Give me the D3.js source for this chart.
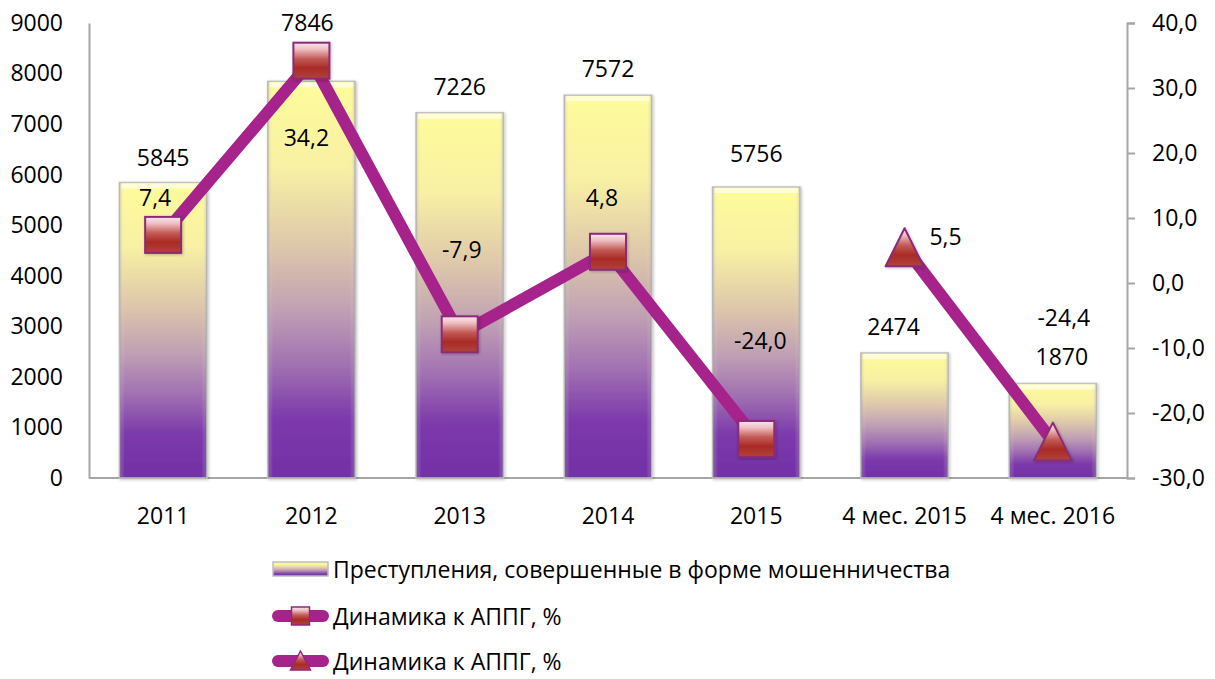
<!DOCTYPE html>
<html>
<head>
<meta charset="utf-8">
<script src="https://cdn.jsdelivr.net/npm/d3@7"></script>
<style>
  body { margin: 0; background: #fff; }
  svg text { font-family: "Open Sans", "Noto Sans", sans-serif; fill: #000; }
</style>
</head>
<body>
<div id="chart"></div>
<script>
// chart data
const categories = ["2011", "2012", "2013", "2014", "2015", "4 мес. 2015", "4 мес. 2016"];
const crimes = [5845, 7846, 7226, 7572, 5756, 2474, 1870];
const dynYear = [7.4, 34.2, -7.9, 4.8, -24.0, null, null];
const dynMonths = [null, null, null, null, null, 5.5, -24.4];
const leftTicks = [0, 1000, 2000, 3000, 4000, 5000, 6000, 7000, 8000, 9000];
const rightTicks = [-30, -20, -10, 0, 10, 20, 30, 40];
const legendLabels = ["Преступления, совершенные в форме мошенничества", "Динамика к АППГ, %", "Динамика к АППГ, %"];

// hand-placed label offsets (as in the original)
const barLabelShift = [[0, -26], [-4, -59], [0, -27], [0, -27], [0, -34], [-11, -27], [9, -27]];
const lineLabelShift = [[-8, -38], [-5, 76], [2, -85], [-6, -55], [4, -99], [41, -11], [11, -125]];

const W = 1215, H = 679;
const plot = { left: 89, right: 1127, top: 23, bottom: 478 };
const lineColor = "#a5238a";
const fs = 23;
const fmt = v => (v < 0 ? "-" : "") + Math.abs(v).toFixed(1).replace(".", ",");

const svg = d3.select("#chart").append("svg")
    .attr("width", W)
    .attr("height", H);

const defs = svg.append("defs");

const barGrad = defs.append("linearGradient")
    .attr("id", "barGrad")
    .attr("x1", 0).attr("y1", 0).attr("x2", 0).attr("y2", 1);
[[0, "#fefc9a"], [0.22, "#f8f0a4"], [0.42, "#ddc6ab"], [0.58, "#bf9fb4"], [0.72, "#a06fb2"], [0.85, "#7c3aab"], [1, "#7230a6"]]
    .forEach(s => barGrad.append("stop").attr("offset", s[0]).attr("stop-color", s[1]));

const shine = defs.append("linearGradient")
    .attr("id", "shine")
    .attr("x1", 0).attr("y1", 0).attr("x2", 1).attr("y2", 0);
[[0, "#8a8a8a", 0.35], [0.06, "#ffffff", 0.0], [0.94, "#ffffff", 0.0], [1, "#8a8a8a", 0.35]]
    .forEach(s => shine.append("stop").attr("offset", s[0]).attr("stop-color", s[1]).attr("stop-opacity", s[2]));

const markGrad = defs.append("linearGradient")
    .attr("id", "markGrad")
    .attr("x1", 0).attr("y1", 0).attr("x2", 0).attr("y2", 1);
[[0, "#f9e8ee"], [0.18, "#efbfc4"], [0.45, "#c25a55"], [0.7, "#a92b25"], [1, "#b0423c"]]
    .forEach(s => markGrad.append("stop").attr("offset", s[0]).attr("stop-color", s[1]));

const shadow = defs.append("filter").attr("id", "shadow")
    .attr("x", "-20%").attr("y", "-10%").attr("width", "140%").attr("height", "120%");
shadow.append("feDropShadow")
    .attr("dx", 1).attr("dy", 1).attr("stdDeviation", 1.5)
    .attr("flood-color", "#000").attr("flood-opacity", 0.25);

// scales
const x = d3.scaleBand()
    .domain(categories)
    .range([plot.left, plot.right])
    .paddingInner(0.41)
    .paddingOuter(0.205);

const y = d3.scaleLinear().domain([0, 9000]).range([plot.bottom, plot.top]);
const y2 = d3.scaleLinear().domain([-30, 40]).range([plot.bottom, plot.top]);

const cx = d => x(d) + x.bandwidth() / 2;

// axes
const leftAxis = svg.append("g")
    .attr("transform", `translate(${plot.left},0)`)
    .call(d3.axisLeft(y).tickValues(leftTicks).tickSize(0).tickPadding(26).tickFormat(d => d));
leftAxis.select(".domain").attr("stroke", "#a6a6a6").attr("stroke-width", 2);

const rightAxis = svg.append("g")
    .attr("transform", `translate(${plot.right},0)`)
    .call(d3.axisRight(y2).tickValues(rightTicks).tickSize(8).tickSizeOuter(8).tickPadding(17).tickFormat(fmt));
rightAxis.select(".domain").attr("stroke", "#a6a6a6").attr("stroke-width", 2);
rightAxis.selectAll(".tick line").attr("stroke", "#a6a6a6").attr("stroke-width", 2);

svg.selectAll(".tick text").attr("font-size", fs).attr("fill", "#000");

// baseline
svg.append("line")
    .attr("x1", plot.left).attr("x2", plot.right)
    .attr("y1", y(0)).attr("y2", y(0))
    .attr("stroke", "#a6a6a6").attr("stroke-width", 2);

// bars
const bars = svg.append("g").selectAll("g")
    .data(categories)
    .join("g");

bars.append("rect")
    .attr("x", d => x(d))
    .attr("y", (d, i) => y(crimes[i]))
    .attr("width", x.bandwidth())
    .attr("height", (d, i) => y(0) - y(crimes[i]))
    .attr("fill", "url(#barGrad)")
    .attr("stroke", "#c2c2c2")
    .attr("stroke-width", 1.5)
    .attr("filter", "url(#shadow)");

bars.append("rect")
    .attr("x", d => x(d))
    .attr("y", (d, i) => y(crimes[i]))
    .attr("width", x.bandwidth())
    .attr("height", (d, i) => y(0) - y(crimes[i]))
    .attr("fill", "url(#shine)");

bars.append("rect")
    .attr("x", d => x(d) + 2)
    .attr("y", (d, i) => y(crimes[i]) + 1)
    .attr("width", x.bandwidth() - 4)
    .attr("height", 5)
    .attr("fill", "#ffffff")
    .attr("opacity", 0.6);

// category labels
svg.append("g").selectAll("text")
    .data(categories)
    .join("text")
    .attr("x", d => cx(d))
    .attr("y", 515)
    .attr("text-anchor", "middle")
    .attr("dominant-baseline", "central")
    .attr("font-size", fs)
    .text(d => d);

// lines
const line = d3.line()
    .defined(d => d.v !== null)
    .x(d => cx(d.c))
    .y(d => y2(d.v));

function series(vals) {
    return categories.map((c, i) => ({ c: c, v: vals[i], i: i }));
}

[dynYear, dynMonths].forEach(vals => {
    svg.append("path")
        .datum(series(vals))
        .attr("d", line)
        .attr("fill", "none")
        .attr("stroke", lineColor)
        .attr("stroke-width", 12)
        .attr("stroke-linejoin", "round");
});

// markers
const sq = 36;
svg.append("g").selectAll("rect")
    .data(series(dynYear).filter(d => d.v !== null))
    .join("rect")
    .attr("x", d => cx(d.c) - sq / 2)
    .attr("y", d => y2(d.v) - sq / 2)
    .attr("width", sq)
    .attr("height", sq)
    .attr("fill", "url(#markGrad)")
    .attr("stroke", "#8c2a78")
    .attr("stroke-width", 2)
    .attr("filter", "url(#shadow)");

const tri = 38;
svg.append("g").selectAll("path")
    .data(series(dynMonths).filter(d => d.v !== null))
    .join("path")
    .attr("d", d => {
        const px = cx(d.c), py = y2(d.v);
        return `M${px},${py - tri / 2}L${px + tri / 2},${py + tri / 2}L${px - tri / 2},${py + tri / 2}Z`;
    })
    .attr("fill", "url(#markGrad)")
    .attr("stroke", "#8c2a78")
    .attr("stroke-width", 2)
    .attr("stroke-linejoin", "round")
    .attr("filter", "url(#shadow)");

// bar value labels
svg.append("g").selectAll("text")
    .data(categories)
    .join("text")
    .attr("x", (d, i) => cx(d) + barLabelShift[i][0])
    .attr("y", (d, i) => y(crimes[i]) + barLabelShift[i][1])
    .attr("text-anchor", "middle")
    .attr("dominant-baseline", "central")
    .attr("font-size", fs)
    .text((d, i) => crimes[i]);

// line value labels
const allPoints = series(dynYear).filter(d => d.v !== null)
    .concat(series(dynMonths).filter(d => d.v !== null));
svg.append("g").selectAll("text")
    .data(allPoints)
    .join("text")
    .attr("x", d => cx(d.c) + lineLabelShift[d.i][0])
    .attr("y", d => y2(d.v) + lineLabelShift[d.i][1])
    .attr("text-anchor", "middle")
    .attr("dominant-baseline", "central")
    .attr("font-size", fs)
    .text(d => fmt(d.v));

// legend
const legend = svg.append("g").attr("transform", "translate(273,0)");
const rowY = [569, 616, 661];

legend.append("rect")
    .attr("x", 0).attr("y", rowY[0] - 7)
    .attr("width", 55).attr("height", 14)
    .attr("fill", "url(#barGrad)")
    .attr("stroke", "#bdbdbd").attr("stroke-width", 1.5);

[1, 2].forEach(r => {
    legend.append("line")
        .attr("x1", 5).attr("x2", 50)
        .attr("y1", rowY[r]).attr("y2", rowY[r])
        .attr("stroke", lineColor).attr("stroke-width", 12)
        .attr("stroke-linecap", "round");
});

legend.append("rect")
    .attr("x", 27.5 - 9).attr("y", rowY[1] - 9)
    .attr("width", 18).attr("height", 18)
    .attr("fill", "url(#markGrad)")
    .attr("stroke", "#8c2a78").attr("stroke-width", 1.5);

legend.append("path")
    .attr("d", `M27.5,${rowY[2] - 10}L37.5,${rowY[2] + 9}L17.5,${rowY[2] + 9}Z`)
    .attr("fill", "url(#markGrad)")
    .attr("stroke", "#8c2a78").attr("stroke-width", 1.5);

legend.selectAll("text.lg")
    .data(legendLabels)
    .join("text")
    .attr("class", "lg")
    .attr("x", 60)
    .attr("y", (d, i) => rowY[i])
    .attr("dominant-baseline", "central")
    .attr("font-size", fs)
    .text(d => d);
</script>
</body>
</html>
